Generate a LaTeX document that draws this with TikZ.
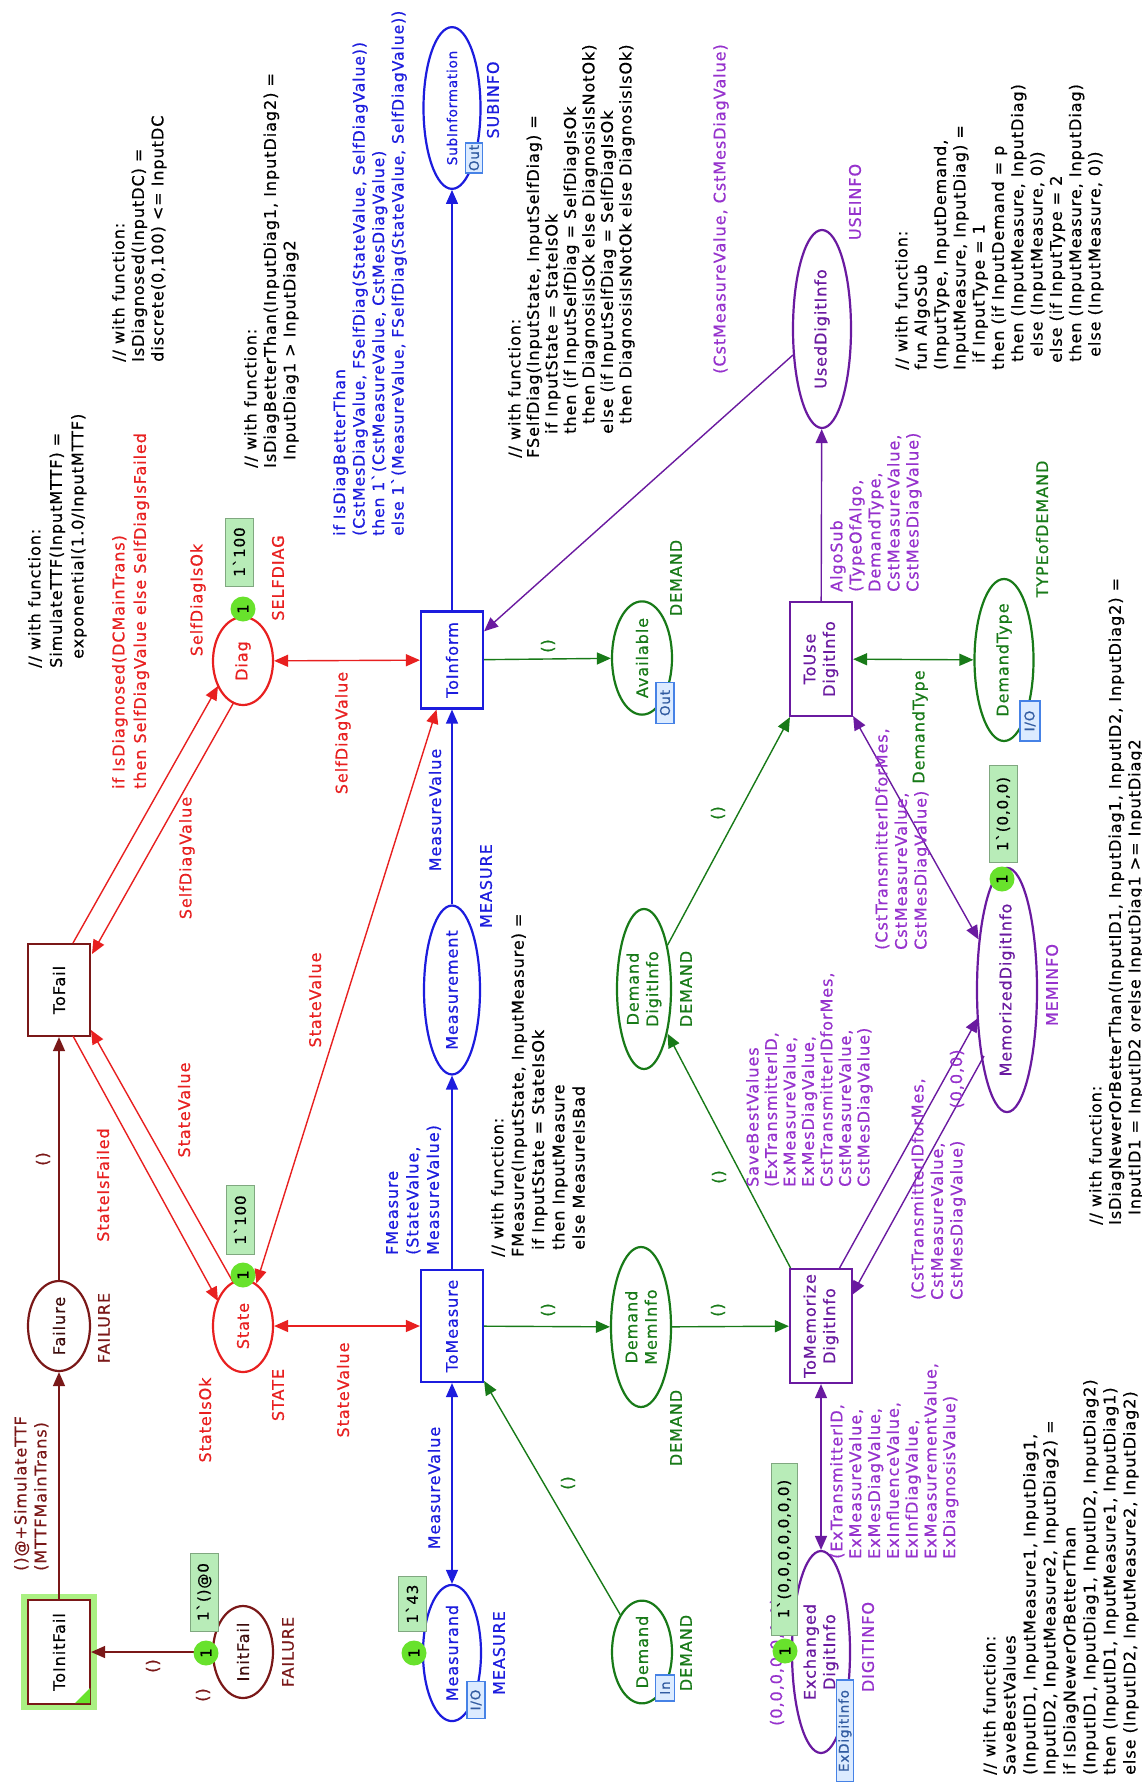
\documentclass[tikz,border=0pt]{standalone}
\usepackage{fontspec}
\setmainfont{DejaVu Sans}[LetterSpace=6, FakeBold=0.6]
\usetikzlibrary{shapes.geometric,arrows.meta,backgrounds}

\definecolor{cpnred}{RGB}{232,32,32}
\definecolor{cpnbrown}{RGB}{122,24,24}
\definecolor{cpnblue}{RGB}{28,28,222}
\definecolor{cpngreen}{RGB}{24,122,24}
\definecolor{cpnpurple}{RGB}{106,26,160}
\definecolor{cpnviolet}{RGB}{150,50,205}
\definecolor{tokgreen}{RGB}{104,226,44}
\definecolor{glowgreen}{RGB}{170,240,130}
\definecolor{markfill}{RGB}{184,236,184}
\definecolor{markline}{RGB}{128,168,128}
\definecolor{portline}{RGB}{70,130,230}
\definecolor{portfill}{RGB}{220,235,255}

\newcommand\mq{ˋ}

\tikzset{
  cpnplace/.style={ellipse, draw=#1, text=#1, fill=white, line width=2.2pt,
    rotate=90, inner sep=0pt, align=center},
  cpntrans/.style={rectangle, draw=#1, text=#1, fill=white, line width=2.2pt,
    rotate=90, inner sep=0pt, align=center},
  cpnarc/.style={draw=#1, line width=1.4pt, -{Triangle[length=14pt,width=12pt]}},
  cpnbiarc/.style={draw=#1, line width=1.4pt,
    {Triangle[length=14pt,width=12pt]}-{Triangle[length=14pt,width=12pt]}},
  cpnlbl/.style={text=#1, rotate=90, inner sep=0pt},
  cpnnote/.style={text=#1, rotate=90, inner sep=0pt, align=left, anchor=north west},
  cpntoken/.style={circle, fill=tokgreen, rotate=90, inner sep=0pt,
    minimum size=25pt, font=\fontsize{15}{15}\selectfont},
  cpnmark/.style={rectangle, fill=markfill, draw=markline, line width=.8pt,
    rotate=90, inner sep=0pt, minimum height=28pt, font=\fontsize{15}{15}\selectfont},
  cpnport/.style={rectangle, fill=portfill, draw=portline, text=portline!70!black,
    line width=1.2pt, rotate=90, inner sep=0pt, font=\fontsize{13.5}{14}\selectfont},
}

\begin{document}
\begin{tikzpicture}[x=1pt, y=-1pt, font=\fontsize{16}{19.5}\selectfont]
\useasboundingbox (0,0) rectangle (1142,1782);

% places
\node[cpnplace=cpnbrown, text=cpnbrown!50!black, minimum width=92, minimum height=60] (InitFail) at (243,1652) {InitFail};
\node[cpnplace=cpnbrown, text=cpnbrown!50!black, minimum width=90, minimum height=62] (Failure) at (59,1326) {Failure};
\node[cpnplace=cpnred, minimum width=92, minimum height=60] (State) at (243,1326) {State};
\node[cpnplace=cpnred, minimum width=88, minimum height=60] (Diag) at (243,661) {Diag};
\node[cpnplace=cpnblue, minimum width=125, minimum height=58] (Measurand) at (452,1653) {Measurand};
\node[cpnplace=cpnblue, minimum width=145, minimum height=56] (Measurement) at (452,990) {Measurement};
\node[cpnplace=cpnblue, minimum width=120, minimum height=57, font=\fontsize{13.5}{15}\selectfont] (SubInformation) at (452,108) {SubInformation};
\node[cpnplace=cpngreen, minimum width=110, minimum height=60] (Available) at (642,658) {Available};
\node[cpnplace=cpngreen, minimum width=160, minimum height=60] (DemandMemInfo) at (641,1327) {Demand\\MemInfo};
\node[cpnplace=cpngreen, minimum width=92, minimum height=60] (Demand) at (642,1652) {Demand};
\node[cpnplace=cpngreen, minimum width=160, minimum height=54] (DemandDigitInfo) at (644,989) {Demand\\DigitInfo};
\node[cpnplace=cpngreen, minimum width=162, minimum height=59] (DemandType) at (1004,660) {DemandType};
\node[cpnplace=cpnpurple, minimum width=198, minimum height=58] (UsedDigitInfo) at (822,329) {UsedDigitInfo};
\node[cpnplace=cpnpurple, minimum width=202, minimum height=58] (ExchangedDigitInfo) at (821,1652) {Exchanged\\DigitInfo};
\node[cpnplace=cpnpurple, minimum width=206, minimum height=60] (MemorizedDigitInfo) at (1007,990) {MemorizedDigitInfo};

% transitions
\node[cpntrans=cpnbrown, text=black, minimum width=104, minimum height=62] (ToInitFail) at (59,1652) {ToInitFail};
\node[cpntrans=cpnbrown, text=black, minimum width=92, minimum height=62] (ToFail) at (59,990) {ToFail};
\node[cpntrans=cpnblue, minimum width=97, minimum height=62] (ToInform) at (452,660) {ToInform};
\node[cpntrans=cpnblue, minimum width=112, minimum height=62] (ToMeasure) at (452,1326) {ToMeasure};
\node[cpntrans=cpnpurple, minimum width=114, minimum height=62] (ToUseDigitInfo) at (821,659) {ToUse\\DigitInfo};
\node[cpntrans=cpnpurple, minimum width=114, minimum height=62] (ToMemorizeDigitInfo) at (821,1326) {ToMemorize\\DigitInfo};

\begin{scope}[on background layer]
  \fill[white] (0,0) rectangle (1142,1782);
  \fill[glowgreen] ([shift={(-38,-58)}]ToInitFail.center) rectangle ([shift={(38,58)}]ToInitFail.center);
\end{scope}
\fill[tokgreen] ([shift={(31,36)}]ToInitFail.center) -- ++(0,15) -- ++(-15,0) -- cycle;

% arcs
\draw[cpnarc=cpnbrown] (InitFail) -- (ToInitFail);
\draw[cpnarc=cpnbrown] (ToInitFail) -- (Failure);
\draw[cpnarc=cpnbrown] (Failure) -- (ToFail);
\draw[cpnarc=cpnred] ([shift={(14,-47)}]ToFail.center) -- ([shift={(-25,25)}]Diag.center);
\draw[cpnarc=cpnred] ([shift={(-9,41)}]Diag.center) -- ([shift={(33,-36)}]ToFail.center);
\draw[cpnarc=cpnred] ([shift={(14,46)}]ToFail.center) -- ([shift={(-25,-25)}]State.center);
\draw[cpnarc=cpnred] ([shift={(-10,-44)}]State.center) -- ([shift={(32,40)}]ToFail.center);
\draw[cpnbiarc=cpnred] (Diag) -- (ToInform);
\draw[cpnbiarc=cpnred] (State) -- (ToMeasure);
\draw[cpnbiarc=cpnred] (State) -- (ToInform);
\draw[cpnbiarc=cpnblue] (Measurand) -- (ToMeasure);
\draw[cpnarc=cpnblue] (ToMeasure) -- (Measurement);
\draw[cpnarc=cpnblue] (Measurement) -- (ToInform);
\draw[cpnarc=cpnblue] (ToInform) -- (SubInformation);
\draw[cpnarc=cpngreen] (ToInform) -- (Available);
\draw[cpnarc=cpngreen] (ToMeasure) -- (DemandMemInfo);
\draw[cpnarc=cpngreen] (DemandMemInfo) -- (ToMemorizeDigitInfo);
\draw[cpnarc=cpngreen] (Demand) -- (ToMeasure);
\draw[cpnarc=cpngreen] (ToMemorizeDigitInfo) -- (DemandDigitInfo);
\draw[cpnarc=cpngreen] (DemandDigitInfo) -- (ToUseDigitInfo);
\draw[cpnbiarc=cpngreen] (ToUseDigitInfo) -- (DemandType);
\draw[cpnarc=cpnpurple] (ToUseDigitInfo) -- (UsedDigitInfo);
\draw[cpnarc=cpnpurple] (UsedDigitInfo) -- (ToInform);
\draw[cpnbiarc=cpnpurple] (ExchangedDigitInfo) -- (ToMemorizeDigitInfo);
\draw[cpnbiarc=cpnpurple] (ToUseDigitInfo) -- (MemorizedDigitInfo);
\draw[cpnarc=cpnpurple] ([shift={(18,-57)}]ToMemorizeDigitInfo.center) -- ([shift={(-29,28)}]MemorizedDigitInfo.center);
\draw[cpnarc=cpnpurple] ([shift={(-23,66)}]MemorizedDigitInfo.center) -- ([shift={(31,-31)}]ToMemorizeDigitInfo.center);

% declarations and comments
\node[cpnnote=black, font=\fontsize{16}{21.5}\selectfont] (fnTTF) at (28,668) {// with function:\\SimulateTTF(InputMTTF) =\\\hspace*{9pt}exponential(1.0/InputMTTF)};
\node[cpnnote=black] (fnDiagnosed) at (112,362) {// with function:\\IsDiagnosed(InputDC) =\\discrete(0,100) <= InputDC};
\node[cpnnote=black] (fnBetter) at (244,468) {// with function:\\IsDiagBetterThan(InputDiag1, InputDiag2) =\\\hspace*{8pt}InputDiag1 > InputDiag2};
\node[cpnnote=black, font=\fontsize{16}{18.5}\selectfont] (fnSelfDiag) at (508,458) {// with function:\\FSelfDiag(InputState, InputSelfDiag) =\\\hspace*{24pt}if InputState = StateIsOk\\\hspace*{24pt}then (if InputSelfDiag = SelfDiagIsOk\\\hspace*{34pt}then DiagnosisIsOk else DiagnosisIsNotOk)\\\hspace*{24pt}else (if InputSelfDiag = SelfDiagIsOk\\\hspace*{34pt}then DiagnosisIsNotOk else DiagnosisIsOk)};
\node[cpnnote=black, font=\fontsize{16}{20.3}\selectfont] (fnMeasure) at (491,1257) {// with function:\\FMeasure(InputState, InputMeasure) =\\\hspace*{7pt}if InputState = StateIsOk\\\hspace*{7pt}then InputMeasure\\\hspace*{7pt}else MeasureIsBad};
\node[cpnnote=black, font=\fontsize{16}{19.3}\selectfont] (fnAlgoSub) at (895,370) {// with function:\\fun AlgoSub\\(InputType, InputDemand,\\InputMeasure, InputDiag) =\\\hspace*{7pt}if InputType = 1\\then (if InputDemand = p\\\hspace*{8pt}then (InputMeasure, InputDiag)\\\hspace*{13pt}else (InputMeasure, 0))\\\hspace*{7pt}else (if InputType = 2\\\hspace*{8pt}then (InputMeasure, InputDiag)\\\hspace*{13pt}else (InputMeasure, 0))};
\node[cpnnote=black] (fnNewer) at (1089,1225) {// with function:\\IsDiagNewerOrBetterThan(InputID1, InputDiag1, InputID2, InputDiag2) =\\\hspace*{10pt}InputID1 = InputID2 orelse InputDiag1 >= InputDiag2};
\node[cpnnote=black, font=\fontsize{16}{20}\selectfont] (fnSaveBest) at (983,1775) {// with function:\\SaveBestValues\\(InputID1, InputMeasure1, InputDiag1,\\InputID2, InputMeasure2, InputDiag2) =\\if IsDiagNewerOrBetterThan\\(InputID1, InputDiag1, InputID2, InputDiag2)\\then (InputID1, InputMeasure1, InputDiag1)\\else (InputID2, InputMeasure2, InputDiag2)};

% arc inscriptions
\node[cpnnote=cpnbrown, font=\fontsize{16}{20}\selectfont] (inToFailure) at (14,1571) {()@+SimulateTTF\\(MTTFMainTrans)};
\node[cpnlbl=cpnbrown] (inInitFail) at (153,1666) {()};
\node[cpnlbl=cpnbrown] (inFailure) at (43,1159) {()};
\node[cpnnote=cpnred, font=\fontsize{16}{21.5}\selectfont] (inToDiag) at (112,789) {if IsDiagnosed(DCMainTrans)\\then SelfDiagValue else SelfDiagIsFailed};
\node[cpnlbl=cpnred] (inDiagFail) at (187,858) {SelfDiagValue};
\node[cpnlbl=cpnred] (inToState) at (103,1185) {StateIsFailed};
\node[cpnlbl=cpnred] (inStateFail) at (184,1110) {StateValue};
\node[cpnlbl=cpnred] (inDiagInform) at (343,733) {SelfDiagValue};
\node[cpnlbl=cpnred] (inStateInform) at (315,1000) {StateValue};
\node[cpnlbl=cpnred] (inStateMeasure) at (343,1390) {StateValue};
\node[cpnlbl=cpnblue] (inMeasurand) at (434,1488) {MeasureValue};
\node[cpnlbl=cpnblue] (inMeasurement) at (435,810) {MeasureValue};
\node[cpnnote=cpnblue, font=\fontsize{16}{20.5}\selectfont] (inFMeasure) at (386,1255) {FMeasure\\(StateValue,\\MeasureValue)};
\node[cpnnote=cpnblue, font=\fontsize{15.6}{19.5}\selectfont] (inSubInfo) at (333,536) {if IsDiagBetterThan\\(CstMesDiagValue, FSelfDiag(StateValue, SelfDiagValue))\\then 1\mq(CstMeasureValue, CstMesDiagValue)\\else 1\mq(MeasureValue, FSelfDiag(StateValue, SelfDiagValue))};
\foreach \nm/\px/\py in {inAvail/548/646, inDemMem/548/1310, inToMem/718/1310, inDemand/568/1483, inDemDigit/719/1177, inToUse/718/813}
  \node[cpnlbl=cpngreen] (\nm) at (\px,\py) {()};
\node[cpnlbl=cpngreen] (inDemandType) at (920,727) {DemandType};
\node[cpnlbl=cpnviolet] (inUsed) at (721,209) {(CstMeasureValue, CstMesDiagValue)};
\node[cpnnote=cpnviolet, font=\fontsize{16}{19}\selectfont] (inAlgoSub) at (830,592) {AlgoSub\\(TypeOfAlgo,\\DemandType,\\CstMeasureValue,\\CstMesDiagValue)};
\node[cpnnote=cpnviolet, font=\fontsize{16}{18.8}\selectfont] (inExchanged) at (830,1559) {(ExTransmitterID,\\ExMeasureValue,\\ExMesDiagValue,\\ExInfluenceValue,\\ExInfDiagValue,\\ExMeasurementValue,\\ExDiagnosisValue)};
\node[cpnnote=cpnviolet, font=\fontsize{16}{18.5}\selectfont] (inSaveBest) at (746,1187) {SaveBestValues\\(ExTransmitterID,\\ExMeasureValue,\\ExMesDiagValue,\\CstTransmitterIDforMes,\\CstMeasureValue,\\CstMesDiagValue)};
\node[cpnnote=cpnviolet] (inMemBack) at (911,1300) {(CstTransmitterIDforMes,\\CstMeasureValue,\\CstMesDiagValue)};
\node[cpnnote=cpnviolet] (inMemUse) at (875,950) {(CstTransmitterIDforMes,\\CstMeasureValue,\\CstMesDiagValue)};

% colour sets
\node[cpnlbl=cpnbrown] (tyFailure) at (104,1328) {FAILURE};
\node[cpnlbl=cpnbrown] (tyInitFail) at (288,1652) {FAILURE};
\node[cpnlbl=cpnred] (tyState) at (278,1395) {STATE};
\node[cpnlbl=cpnred] (tyDiag) at (278,578) {SELFDIAG};
\node[cpnlbl=cpnblue] (tyMeasurement) at (486,886) {MEASURE};
\node[cpnlbl=cpnblue] (tyMeasurand) at (499,1653) {MEASURE};
\node[cpnlbl=cpnblue] (tySubInfo) at (493,100) {SUBINFO};
\foreach \nm/\px/\py in {tyAvail/676/578, tyDemDigit/686/989, tyDemMem/676/1428, tyDemand/686/1653}
  \node[cpnlbl=cpngreen] (\nm) at (\px,\py) {DEMAND};
\node[cpnlbl=cpngreen] (tyDemandType) at (1042,529) {TYPEofDEMAND};
\node[cpnlbl=cpnviolet] (tyUsed) at (855,202) {USEINFO};
\node[cpnlbl=cpnviolet] (tyMemorized) at (1052,985) {MEMINFO};
\node[cpnlbl=cpnviolet] (tyExchanged) at (868,1647) {DIGITINFO};

% initial markings
\node[cpnlbl=cpnbrown] (imInitFail) at (203,1695) {()};
\node[cpnlbl=cpnred] (imState) at (205,1420) {StateIsOk};
\node[cpnlbl=cpnred] (imDiag) at (198,600) {SelfDiagIsOk};
\node[cpnlbl=cpnviolet, anchor=west] (imExchanged) at (777,1726) {(0,0,0,0,0,0,0)};
\node[cpnlbl=cpnviolet] (imMemorized) at (957,1079) {(0,0,0)};

% current markings
\node[cpnmark, minimum width=78] (mkInitFail) at (204,1592) {1\mq()@0};
\node[cpnmark, minimum width=69] (mkState) at (240,1220) {1\mq100};
\node[cpnmark, minimum width=68] (mkDiag) at (239,552) {1\mq100};
\node[cpnmark, minimum width=55] (mkMeasurand) at (412,1604) {1\mq43};
\node[cpnmark, minimum width=172, minimum height=26] (mkExchanged) at (784,1549) {1\mq(0,0,0,0,0,0,0)};
\node[cpnmark, minimum width=97] (mkMemorized) at (1003,814) {1\mq(0,0,0)};
\node[cpntoken] (tkInitFail) at (206,1653) {1};
\node[cpntoken] (tkState) at (243,1275) {1};
\node[cpntoken] (tkDiag) at (243,609) {1};
\node[cpntoken] (tkMeasurand) at (414,1653) {1};
\node[cpntoken] (tkExchanged) at (785,1651) {1};
\node[cpntoken] (tkMemorized) at (1002,879) {1};

% port tags
\node[cpnport, minimum width=30, minimum height=17] (ptSubInfo) at (474,158) {Out};
\node[cpnport, minimum width=41, minimum height=18] (ptAvail) at (665,703) {Out};
\node[cpnport, minimum width=37, minimum height=18] (ptMeasurand) at (476,1700) {I/O};
\node[cpnport, minimum width=26, minimum height=19] (ptDemand) at (665,1688) {In};
\node[cpnport, minimum width=40, minimum height=20] (ptDemandType) at (1030,721) {I/O};
\node[cpnport, minimum width=102, minimum height=17] (ptExchanged) at (845,1731) {ExDigitInfo};
\end{tikzpicture}
\end{document}
